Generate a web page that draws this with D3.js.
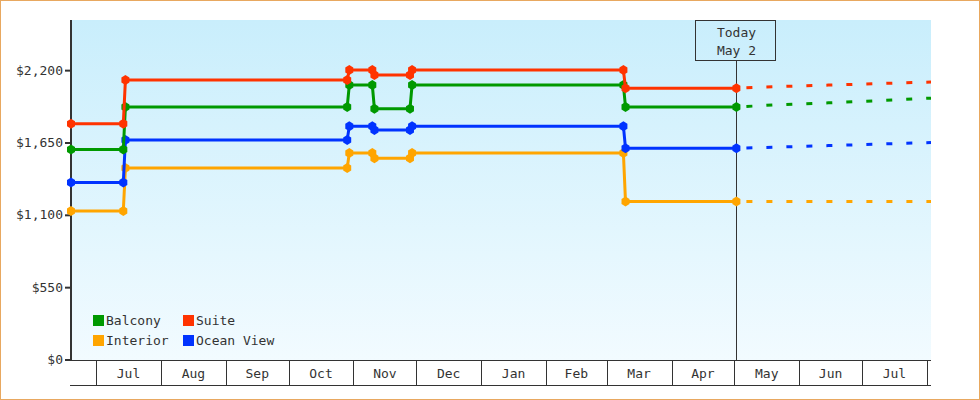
<!DOCTYPE html>
<html><head><meta charset="utf-8">
<script src="https://cdn.jsdelivr.net/npm/d3@7"></script>
<style>body{margin:0;background:#fff}svg text{font-family:"DejaVu Sans Mono",monospace;font-size:13px;fill:#333}</style>
</head><body><svg id="c" width="980" height="400"></svg>
<script>
const dates = ["2023-06-19","2023-07-14","2023-07-15","2023-10-29","2023-10-30","2023-11-10","2023-11-11","2023-11-28","2023-11-29","2024-03-09","2024-03-10","2024-05-02"];
const balcony  = [1600,1600,1923,1923,2090,2090,1911,1911,2090,2090,1923,1923];
const suite    = [1797,1797,2128,2128,2204,2204,2166,2166,2204,2204,2067,2067];
const oceanView= [1349,1349,1672,1672,1778,1778,1748,1748,1778,1778,1609,1609];
const interior = [1132,1132,1459,1459,1573,1573,1533,1533,1573,1573,1206,1206];
const futureDates = ["2024-05-02","2024-05-20","2024-06-15","2024-07-10","2024-08-03"];
const balconyF  = [1923,1940,1955,1972,1991];
const suiteF    = [2067,2078,2090,2102,2113];
const oceanViewF= [1609,1618,1630,1642,1653];
const interiorF = [1206,1206,1206,1206,1206];
const yTicks = [0,550,1100,1650,2200];
const months = ["2023-06-01","2023-07-01","2023-08-01","2023-09-01","2023-10-01","2023-11-01","2023-12-01","2024-01-01","2024-02-01","2024-03-01","2024-04-01","2024-05-01","2024-06-01","2024-07-01","2024-08-01","2024-09-01"];
const today = "2024-05-02";

const series = [
 {name:"Balcony",color:"#009900",v:balcony,f:balconyF},
 {name:"Suite",color:"#ff3300",v:suite,f:suiteF},
 {name:"Interior",color:"#ffa500",v:interior,f:interiorF},
 {name:"Ocean View",color:"#0033ff",v:oceanView,f:oceanViewF}
];
const P = d3.timeParse("%Y-%m-%d");
const L=71,R=931,T=20,B=360;
const x = d3.scaleTime().domain([P("2023-06-19"),P("2024-08-03")]).range([L,R]);
const y = d3.scaleLinear().domain([0,2585]).range([B,T]);
const svg = d3.select("#c");
svg.append("rect").attr("x",0.5).attr("y",0.5).attr("width",979).attr("height",399).attr("fill","#fff").attr("stroke","#e8a860");
const g = svg.append("defs").append("linearGradient").attr("id","bg").attr("x1",0).attr("x2",0).attr("y1",0).attr("y2",1);
g.append("stop").attr("offset","0").attr("stop-color","#c9eefc");
g.append("stop").attr("offset","1").attr("stop-color","#f2fbff");
svg.append("rect").attr("x",L).attr("y",T).attr("width",R-L).attr("height",B-T).attr("fill","url(#bg)");

const ax = svg.append("g");
const ms = months.map(P);
ms.forEach((m,i)=>{
  const xx = x(m);
  if(xx>L && xx<R+2) ax.append("line").attr("x1",Math.round(xx)+0.5).attr("x2",Math.round(xx)+0.5).attr("y1",B).attr("y2",385).attr("stroke","#333");
  if(i<ms.length-1){
    const a=Math.max(L,x(m)), b=Math.min(R,x(ms[i+1]));
    if(b-a>40) ax.append("text").attr("x",(a+b)/2).attr("y",378).attr("text-anchor","middle").text(d3.timeFormat("%b")(m));
  }
});
ax.append("line").attr("x1",70).attr("x2",R).attr("y1",385.5).attr("y2",385.5).attr("stroke","#333");
ax.append("line").attr("x1",L).attr("x2",R).attr("y1",B+0.5).attr("y2",B+0.5).attr("stroke","#333");

const ya = svg.append("g");
ya.append("line").attr("x1",L).attr("x2",L).attr("y1",T).attr("y2",B+1).attr("stroke","#333").attr("stroke-width",2);
yTicks.forEach(t=>{
  ya.append("line").attr("x1",L-6).attr("x2",L).attr("y1",y(t)).attr("y2",y(t)).attr("stroke","#333").attr("stroke-width",2);
  ya.append("text").attr("x",L-8).attr("y",y(t)+4).attr("text-anchor","end").text("$"+d3.format(",")(t));
});

const tx = Math.round(x(P(today)))+0.5;
svg.append("line").attr("x1",tx).attr("x2",tx).attr("y1",60).attr("y2",B).attr("stroke","#333");
svg.append("rect").attr("x",695.5).attr("y",20.5).attr("width",80).attr("height",40).attr("fill","none").attr("stroke","#333");
svg.append("text").attr("x",tx).attr("y",37).attr("text-anchor","middle").text("Today");
svg.append("text").attr("x",tx).attr("y",55).attr("text-anchor","middle").text("May 2");

const line = d3.line().x(d=>x(d[0])).y(d=>y(d[1]));
const order=[series[2],series[3],series[0],series[1]];
order.forEach(s=>{
  const pts = dates.map((d,i)=>[P(d),s.v[i]]);
  const fp = futureDates.map((d,i)=>[P(d),s.f[i]]);
  svg.append("path").attr("d",line(fp)).attr("fill","none").attr("stroke",s.color).attr("stroke-width",3).attr("stroke-dasharray","0,10,6,4");
  svg.append("path").attr("d",line(pts)).attr("fill","none").attr("stroke",s.color).attr("stroke-width",3);
  svg.selectAll(null).data(pts).enter().append("path").attr("transform",d=>`translate(${x(d[0])},${y(d[1])})`)
    .attr("d","M0,-5L4,-2.5L4,2.5L0,5L-4,2.5L-4,-2.5Z").attr("fill",s.color);
});

const leg=[[series[0],93,315],[series[1],183,315],[series[2],93,335],[series[3],183,335]];
leg.forEach(([s,lx,ly])=>{
  svg.append("rect").attr("x",lx).attr("y",ly).attr("width",11).attr("height",11).attr("fill",s.color);
  svg.append("text").attr("x",lx+13).attr("y",ly+10).text(s.name);
});
</script></body></html>
